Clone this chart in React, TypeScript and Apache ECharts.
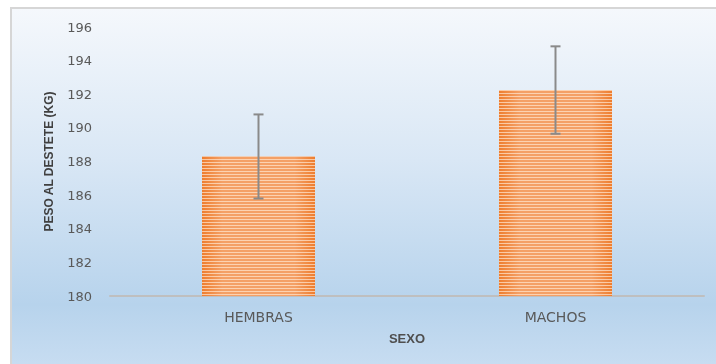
import React, { useEffect, useRef } from "react";
import * as echarts from "echarts";

const categories: string[] = ["HEMBRAS", "MACHOS"];
const means: number[] = [188.3, 192.25];
const errors: number[] = [2.5, 2.6];
const yTicks = { min: 180, max: 196, interval: 2 };
const xAxisTitle = "SEXO";
const yAxisTitle = "PESO AL DESTETE (KG)";

export default function App() {
  const ref = useRef<HTMLDivElement>(null);
  useEffect(() => {
    if (!ref.current) return;
    const chart = echarts.init(ref.current, undefined, { renderer: "svg" });
    const errData = categories.map((_, i) => [i, means[i] - errors[i], means[i] + errors[i]]);
    const option: any = {
      animation: false,
      graphic: [
        {
          type: "rect",
          z: -10,
          silent: true,
          shape: { x: 11, y: 8, width: 720, height: 380 },
          style: {
            fill: new echarts.graphic.LinearGradient(0, 0, 0, 1, [
              { offset: 0, color: "#f5f8fc" },
              { offset: 0.4, color: "#d9e7f5" },
              { offset: 0.78, color: "#b7d3ec" },
              { offset: 1, color: "#cde0f3" },
            ]),
            stroke: "#d6d6d6",
            lineWidth: 2,
          },
        },
      ],
      grid: { left: 110, right: 12, top: 27, bottom: 68, containLabel: false },
      xAxis: {
        type: "category",
        data: categories,
        name: xAxisTitle,
        nameLocation: "middle",
        nameGap: 36,
        nameTextStyle: { fontFamily: "Liberation Sans, sans-serif", fontWeight: "bold", fontSize: 13, color: "#4f4f4f" },
        axisLine: { lineStyle: { color: "#bfbfbf", width: 2 } },
        axisTick: { show: false },
        axisLabel: { fontFamily: "DejaVu Sans, sans-serif", fontSize: 14, color: "#595959", margin: 14 },
      },
      yAxis: {
        type: "value",
        min: yTicks.min,
        max: yTicks.max,
        interval: yTicks.interval,
        name: yAxisTitle,
        nameLocation: "middle",
        nameGap: 55,
        nameTextStyle: { fontFamily: "Liberation Sans, sans-serif", fontWeight: "bold", fontSize: 12, color: "#404040" },
        axisLine: { show: false },
        axisTick: { show: false },
        splitLine: { show: false },
        axisLabel: { fontFamily: "DejaVu Sans, sans-serif", fontSize: 13, color: "#595959", margin: 18 },
      },
      series: [
        {
          type: "bar",
          data: means,
          barWidth: 113,
          itemStyle: {
            color: new echarts.graphic.LinearGradient(0, 0, 1, 0, [
              { offset: 0, color: "#ee7d2e" },
              { offset: 0.18, color: "#f4a066" },
              { offset: 0.82, color: "#f4a066" },
              { offset: 1, color: "#ee7d2e" },
            ]),
            decal: {
              symbol: "rect",
              symbolSize: 1,
              dashArrayX: [1, 0],
              dashArrayY: [1, 2],
              rotation: 0,
              color: "rgba(255,232,210,0.7)",
            },
          },
          z: 2,
        },
        {
          type: "custom",
          data: errData,
          encode: { x: 0, y: [1, 2] },
          z: 5,
          renderItem: (params: any, api: any) => {
            const x = api.value(0);
            const lo = api.coord([x, api.value(1)]);
            const hi = api.coord([x, api.value(2)]);
            const hw = 5;
            const style = { stroke: "#8a8a8a", lineWidth: 2 };
            return {
              type: "group",
              children: [
                { type: "line", shape: { x1: lo[0], y1: lo[1], x2: hi[0], y2: hi[1] }, style },
                { type: "line", shape: { x1: hi[0] - hw, y1: hi[1], x2: hi[0] + hw, y2: hi[1] }, style },
                { type: "line", shape: { x1: lo[0] - hw, y1: lo[1], x2: lo[0] + hw, y2: lo[1] }, style },
              ],
            };
          },
        },
      ],
    };
    chart.setOption(option);
    return () => chart.dispose();
  }, []);
  return (
    <div
      ref={ref}
      style={{ position: "fixed", left: 0, top: 0, width: 716, height: 364 }}
    />
  );
}
